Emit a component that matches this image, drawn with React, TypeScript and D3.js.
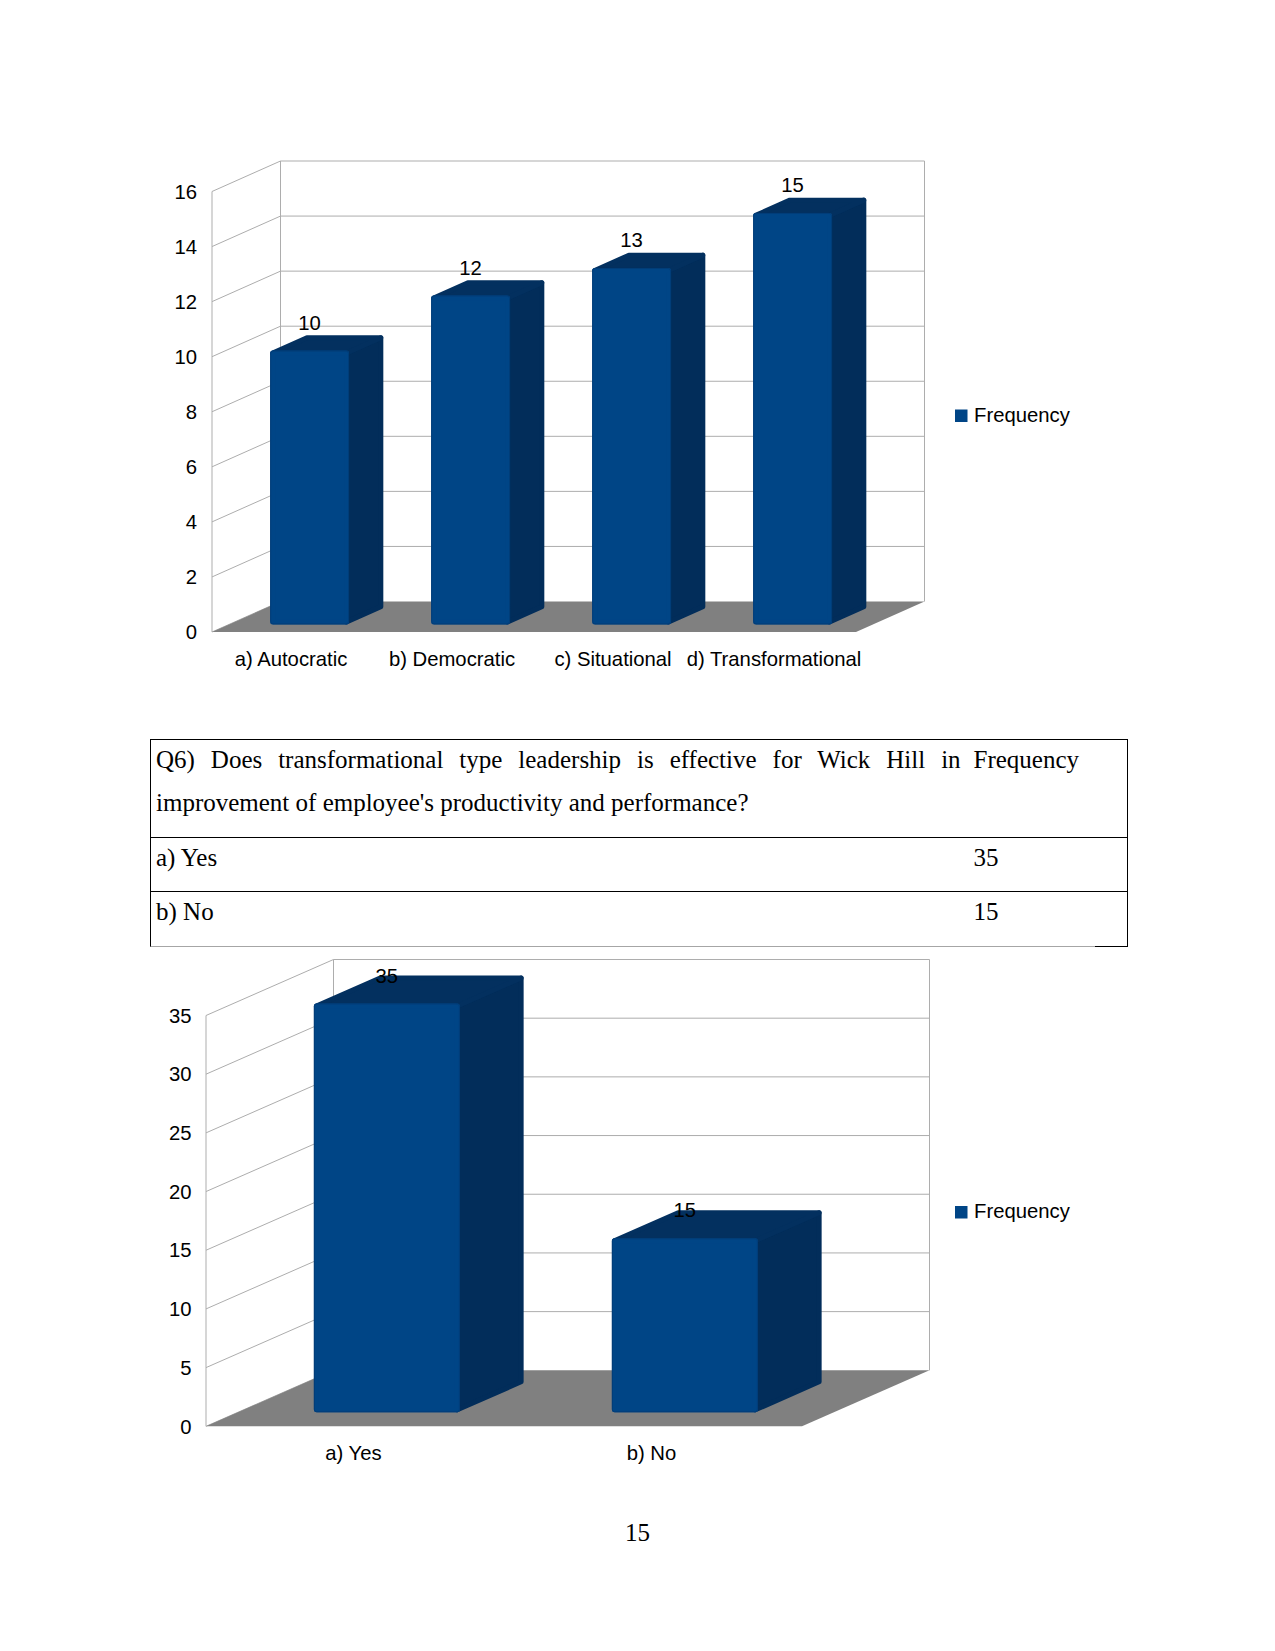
import * as d3 from "d3";

// values
const styleCategories = ["a) Autocratic", "b) Democratic", "c) Situational", "d) Transformational"];
const styleValues = [10, 12, 13, 15];
const styleTicks = [0, 2, 4, 6, 8, 10, 12, 14, 16];

const effectCategories = ["a) Yes", "b) No"];
const effectValues = [35, 15];
const effectTicks = [0, 5, 10, 15, 20, 25, 30, 35];

const legendLabel = "Frequency";

const questionLines = [
  "Q6) Does transformational type leadership is effective for Wick Hill in",
  "improvement of employee's productivity and performance?",
];
const tableRows = [
  { label: "a) Yes", value: "35" },
  { label: "b) No", value: "15" },
];
const pageNumber = "15";

const FRONT = "#004586";
const SIDE = "#022d5a";
const TOP = "#03305f";
const FLOOR = "#808080";
const GRID = "#adadad";
const SANS = "'Liberation Sans', Arial, sans-serif";
const SERIF = "'Liberation Serif', 'Times New Roman', serif";

type Frame = {
  left: number; right: number; // front plane
  bottom: number; top: number; // y of first and last tick on the front plane
  dx: number; dy: number; // depth of the box
  legendY: number;
  categoryY: number;
  labelRight: number;
  barDrop: number; // bars sit a little below the tick height
};

const pts = (p: number[][]) => p.map((d) => d.join(",")).join(" ");

function Chart3D({ categories, values, ticks, frame }: {
  categories: string[]; values: number[]; ticks: number[]; frame: Frame;
}) {
  const { left, right, bottom, top, dx, dy, legendY, categoryY, labelRight, barDrop } = frame;
  const x = d3.scaleBand<string>().domain(categories).range([left, right])
    .paddingInner(0.51).paddingOuter(0.255);
  const y = d3.scaleLinear().domain(d3.extent(ticks) as [number, number]).range([bottom, top]);
  const backRight = right + dx;
  const backLeft = left + dx;
  const near = 0.25; // bars stand in the middle half of the floor
  const far = 0.75;

  return (
    <g>
      {/* walls */}
      {ticks.map((t) => (
        <g key={t} stroke={GRID} strokeWidth={1} fill="none">
          <line x1={left} x2={backLeft} y1={y(t)} y2={y(t) - dy} />
          {t !== ticks[0] && <line x1={backLeft} x2={backRight} y1={y(t) - dy} y2={y(t) - dy} />}
        </g>
      ))}
      <line x1={left} x2={left} y1={y(ticks[ticks.length - 1])} y2={bottom} stroke={GRID} />
      <line x1={backLeft} x2={backLeft} y1={y(ticks[ticks.length - 1]) - dy} y2={bottom - dy} stroke={GRID} />
      <line x1={backRight} x2={backRight} y1={y(ticks[ticks.length - 1]) - dy} y2={bottom - dy} stroke={GRID} />
      <polygon
        fill={FLOOR}
        points={pts([[left, bottom], [right, bottom], [backRight, bottom - dy], [backLeft, bottom - dy]])}
      />

      {/* bars */}
      {categories.map((c, i) => {
        const x0 = (x(c) as number) + near * dx;
        const x1 = x0 + x.bandwidth();
        const y0 = bottom - near * dy;
        const yv = y(values[i]) - near * dy + barDrop;
        const ox = (far - near) * dx;
        const oy = (far - near) * dy;
        const r = 2.5;
        return (
          <g key={c} strokeWidth={r * 2} strokeLinejoin="round">
            <polygon fill={SIDE} stroke={SIDE}
              points={pts([[x1 - r, yv + r], [x1 + ox - r, yv - oy + r], [x1 + ox - r, y0 - oy - r], [x1 - r, y0 - r]])} />
            <polygon fill={TOP} stroke={TOP}
              points={pts([[x0 + r, yv + r], [x0 + ox + r, yv - oy + r], [x1 + ox - r, yv - oy + r], [x1 - r, yv + r]])} />
            <rect x={x0 + r} y={yv + r} width={x1 - x0 - 2 * r} height={y0 - yv - 2 * r}
              fill={FRONT} stroke={FRONT} />
            <rect x={x0 + 0.5} y={yv + 0.5} width={x1 - x0 - 1} height={y0 - yv - 1} rx={2.5}
              fill="none" stroke="#023d78" strokeWidth={1} />
            <text x={(x0 + x1) / 2} y={yv - 21} textAnchor="middle" fontFamily={SANS} fontSize={20.3}
              fill="#000" stroke="none">
              {values[i]}
            </text>
          </g>
        );
      })}

      {/* axis labels */}
      {ticks.map((t) => (
        <text key={t} x={labelRight} y={y(t) + 7.2} textAnchor="end" fontFamily={SANS} fontSize={20.3} fill="#000">
          {t}
        </text>
      ))}
      {categories.map((c) => (
        <text key={c} x={(x(c) as number) + x.bandwidth() / 2 - 1.5} y={categoryY} textAnchor="middle"
          fontFamily={SANS} fontSize={20.3} fill="#000">
          {c}
        </text>
      ))}

      {/* legend */}
      <rect x={955} y={legendY - 6} width={12.5} height={12.5} fill={FRONT} />
      <text x={974} y={legendY + 6} fontFamily={SANS} fontSize={20.3} fill="#000">{legendLabel}</text>
    </g>
  );
}

function QuestionTable() {
  const left = 150;
  const right = 1128;
  const rowLines = [739.5, 837.5, 891.5];
  const textX = 156;
  const valueX = 973.5;
  return (
    <g fontFamily={SERIF} fontSize={25} fill="#000">
      <line x1={left} x2={right} y1={rowLines[0]} y2={rowLines[0]} stroke="#000" />
      <line x1={left} x2={right} y1={rowLines[1]} y2={rowLines[1]} stroke="#000" />
      <line x1={left} x2={right} y1={rowLines[2]} y2={rowLines[2]} stroke="#000" />
      <line x1={left} x2={1095} y1={946.5} y2={946.5} stroke="#a6a6a6" />
      <line x1={1095} x2={right} y1={946.5} y2={946.5} stroke="#000" />
      <line x1={left + 0.5} x2={left + 0.5} y1={739.5} y2={946.5} stroke="#000" />
      <line x1={right - 0.5} x2={right - 0.5} y1={739.5} y2={946.5} stroke="#000" />
      <text x={textX} y={768} style={{ wordSpacing: "9.7px" }}>{questionLines[0]}</text>
      <text x={valueX} y={768}>{legendLabel}</text>
      <text x={textX} y={811}>{questionLines[1]}</text>
      {tableRows.map((r, i) => (
        <g key={r.label}>
          <text x={textX} y={866 + i * 54}>{r.label}</text>
          <text x={valueX} y={866 + i * 54}>{r.value}</text>
        </g>
      ))}
    </g>
  );
}

export default function App() {
  return (
    <svg width={1275} height={1651} viewBox="0 0 1275 1651"
      style={{ position: "absolute", left: 0, top: 0, background: "#fff" }}>
      <Chart3D categories={styleCategories} values={styleValues} ticks={styleTicks}
        frame={{ left: 212, right: 856, bottom: 632, top: 191.5, dx: 68.5, dy: 30.5, legendY: 415.5, categoryY: 666, labelRight: 197, barDrop: 1.5 }} />
      <QuestionTable />
      <Chart3D categories={effectCategories} values={effectValues} ticks={effectTicks}
        frame={{ left: 206, right: 802, bottom: 1426.3, top: 1015.5, dx: 127.5, dy: 56, legendY: 1212, categoryY: 1460, labelRight: 191.5, barDrop: 2 }} />
      <text x={637.5} y={1541} textAnchor="middle" fontFamily={SERIF} fontSize={25} fill="#000">{pageNumber}</text>
    </svg>
  );
}
